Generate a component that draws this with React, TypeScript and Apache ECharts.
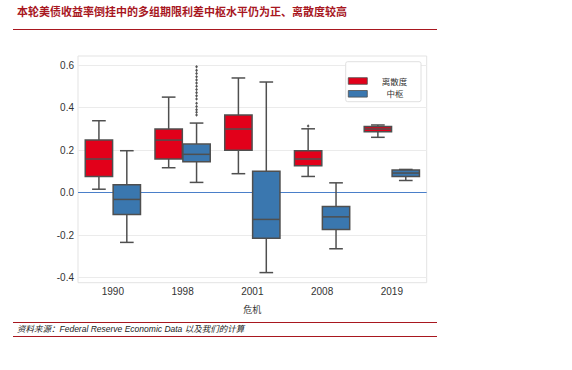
import React, { useEffect, useRef } from "react";
import * as echarts from "echarts";

const categories = ["1990", "1998", "2001", "2008", "2019"];

// [low whisker, Q1, median, Q3, high whisker]
const dispersionLow = [0.016, 0.117, 0.089, 0.076, 0.26];
const dispersionQ1 = [0.076, 0.158, 0.199, 0.126, 0.286];
const dispersionMedian = [0.158, 0.247, 0.299, 0.158, 0.299];
const dispersionQ3 = [0.247, 0.299, 0.365, 0.197, 0.311];
const dispersionHigh = [0.338, 0.449, 0.539, 0.3, 0.318];
const dispersionOutliers: [number, number][] = [[3, 0.313]];

const centerLow = [-0.234, 0.048, -0.376, -0.264, 0.057];
const centerQ1 = [-0.103, 0.145, -0.214, -0.173, 0.076];
const centerMedian = [-0.032, 0.18, -0.126, -0.114, 0.092];
const centerQ3 = [0.037, 0.228, 0.1, -0.065, 0.106];
const centerHigh = [0.197, 0.327, 0.52, 0.046, 0.109];
const centerOutliers: [number, number][] = [
  [1, 0.592], [1, 0.575], [1, 0.56], [1, 0.545], [1, 0.53], [1, 0.515],
  [1, 0.5], [1, 0.485], [1, 0.47], [1, 0.455], [1, 0.44], [1, 0.42],
  [1, 0.405], [1, 0.39], [1, 0.378], [1, 0.365],
];

const legendNames = ["离散度", "中枢"];
const yTicksMin = -0.4;
const yTicksMax = 0.6;
const yInterval = 0.2;

const RED = "#E2001A";
const BLUE = "#3A77AF";
const EDGE = "#4f4f4f";
const DARKRED = "#A8171F";

function buildRows(lo: number[], q1: number[], md: number[], q3: number[], hi: number[]) {
  return categories.map((_, i) => [i, lo[i], q1[i], md[i], q3[i], hi[i]]);
}

function boxRenderer(offset: number, fill: string) {
  return (params: any, api: any) => {
    const cat = api.value(0);
    const band = api.size([1, 0])[0];
    const cx = api.coord([cat, 0])[0] + offset * band;
    const w = band * 0.392;
    const cap = w * 0.5;
    const y = (v: number) => api.coord([cat, v])[1];
    const yLo = y(api.value(1));
    const yQ1 = y(api.value(2));
    const yMd = y(api.value(3));
    const yQ3 = y(api.value(4));
    const yHi = y(api.value(5));
    const ls = { stroke: EDGE, lineWidth: 1.5 };
    return {
      type: "group",
      children: [
        { type: "line", shape: { x1: cx, y1: yHi, x2: cx, y2: yQ3 }, style: ls },
        { type: "line", shape: { x1: cx, y1: yQ1, x2: cx, y2: yLo }, style: ls },
        { type: "line", shape: { x1: cx - cap / 2, y1: yHi, x2: cx + cap / 2, y2: yHi }, style: ls },
        { type: "line", shape: { x1: cx - cap / 2, y1: yLo, x2: cx + cap / 2, y2: yLo }, style: ls },
        {
          type: "rect",
          shape: { x: cx - w / 2, y: yQ3, width: w, height: yQ1 - yQ3 },
          style: { fill, stroke: EDGE, lineWidth: 1.5 },
        },
        { type: "line", shape: { x1: cx - w / 2, y1: yMd, x2: cx + w / 2, y2: yMd }, style: ls },
      ],
    };
  };
}

function outlierRenderer(offset: number) {
  return (params: any, api: any) => {
    const cat = api.value(0);
    const band = api.size([1, 0])[0];
    const [px, py] = api.coord([cat, api.value(1)]);
    const cx = px + offset * band;
    const r = 1.4;
    return {
      type: "polygon",
      shape: { points: [[cx, py - r * 1.3], [cx + r, py], [cx, py + r * 1.3], [cx - r, py]] },
      style: { fill: "#555" },
    };
  };
}

export default function App() {
  const ref = useRef<HTMLDivElement>(null);
  useEffect(() => {
    if (!ref.current) return;
    const chart = echarts.init(ref.current, undefined, { renderer: "svg" });
    const font = "Liberation Sans, Arial, sans-serif";
    const cjk = "Noto Sans CJK SC, sans-serif";
    chart.setOption({
      animation: false,
      grid: { left: 78, right: 145.3, top: 65, bottom: 92.3, containLabel: false },
      xAxis: {
        type: "category",
        data: categories,
        boundaryGap: true,
        axisLine: { show: false },
        axisTick: { show: false },
        splitLine: { show: false },
        axisLabel: { margin: 9, fontSize: 10, color: "#333", fontFamily: font },
        name: "危机",
        nameLocation: "middle",
        nameGap: 27,
        nameTextStyle: { fontSize: 9, color: "#333", fontFamily: cjk },
      },
      yAxis: {
        type: "value",
        min: yTicksMin,
        max: yTicksMax,
        interval: yInterval,
        axisLine: { show: false },
        axisTick: { show: false },
        splitLine: { show: true, lineStyle: { color: "#ebebeb", width: 1 } },
        axisLabel: {
          margin: 4,
          fontSize: 10,
          color: "#333",
          fontFamily: font,
          formatter: (v: number) => v.toFixed(1),
        },
      },
      series: [
        {
          type: "custom",
          name: legendNames[0],
          renderItem: boxRenderer(-0.2, RED),
          encode: { x: 0, y: [1, 2, 3, 4, 5] },
          data: buildRows(dispersionLow, dispersionQ1, dispersionMedian, dispersionQ3, dispersionHigh),
          z: 3,
          markLine: {
            silent: true,
            symbol: "none",
            label: { show: false },
            lineStyle: { color: "#4a7fc9", width: 1, type: "solid" },
            data: [{ yAxis: 0 }],
            z: 2,
          },
        },
        {
          type: "custom",
          name: legendNames[1],
          renderItem: boxRenderer(0.2, BLUE),
          encode: { x: 0, y: [1, 2, 3, 4, 5] },
          data: buildRows(centerLow, centerQ1, centerMedian, centerQ3, centerHigh),
          z: 4,
        },
        {
          type: "custom",
          renderItem: outlierRenderer(-0.2),
          encode: { x: 0, y: 1 },
          data: dispersionOutliers,
          z: 5,
        },
        {
          type: "custom",
          renderItem: outlierRenderer(0.2),
          encode: { x: 0, y: 1 },
          data: centerOutliers,
          z: 5,
        },
      ],
      graphic: [
        {
          type: "text",
          left: 17,
          top: 5,
          style: {
            text: "本轮美债收益率倒挂中的多组期限利差中枢水平仍为正、离散度较高",
            fill: DARKRED,
            fontSize: 11,
            fontWeight: "bold",
            fontFamily: cjk,
          },
        },
        { type: "line", shape: { x1: 13, y1: 29.5, x2: 437, y2: 29.5 }, style: { stroke: DARKRED, lineWidth: 1 } },
        { type: "line", shape: { x1: 13, y1: 322.5, x2: 437, y2: 322.5 }, style: { stroke: DARKRED, lineWidth: 1 } },
        { type: "line", shape: { x1: 13, y1: 336.5, x2: 437, y2: 336.5 }, style: { stroke: DARKRED, lineWidth: 1 } },
        {
          type: "text",
          left: 17,
          top: 324.5,
          style: {
            text: "资料来源：Federal Reserve Economic Data 以及我们的计算",
            fill: "#222",
            fontSize: 8.5,
            fontStyle: "italic",
            fontFamily: "Liberation Sans, Noto Sans CJK SC, sans-serif",
          },
        },
        {
          type: "rect",
          shape: { x: 78, y: 56, width: 348.7, height: 226.7 },
          style: { fill: "none", stroke: "#e3e3e3", lineWidth: 1 },
          z: -1,
        },
        {
          type: "rect",
          shape: { x: 345.7, y: 61.7, width: 75.3, height: 40, r: 2 },
          style: { fill: "#fff", stroke: "#e0e0e0", lineWidth: 1 },
          z: 10,
        },
        {
          type: "rect",
          shape: { x: 348.3, y: 77.7, width: 19, height: 6.6 },
          style: { fill: RED, stroke: EDGE, lineWidth: 0.8 },
          z: 11,
        },
        {
          type: "rect",
          shape: { x: 348.3, y: 90.5, width: 19, height: 6.6 },
          style: { fill: BLUE, stroke: EDGE, lineWidth: 0.8 },
          z: 11,
        },
        {
          type: "text",
          x: 394.5,
          y: 80.5,
          style: {
            text: legendNames[0],
            fill: "#333",
            fontSize: 8.5,
            fontFamily: cjk,
            textAlign: "center",
            textVerticalAlign: "middle",
          },
          z: 11,
        },
        {
          type: "text",
          x: 395,
          y: 92.5,
          style: {
            text: legendNames[1],
            fill: "#333",
            fontSize: 8.5,
            fontFamily: cjk,
            textAlign: "center",
            textVerticalAlign: "middle",
          },
          z: 11,
        },
      ],
    });
    return () => chart.dispose();
  }, []);
  return <div ref={ref} style={{ width: 572, height: 370, position: "absolute", left: 0, top: 0 }} />;
}
